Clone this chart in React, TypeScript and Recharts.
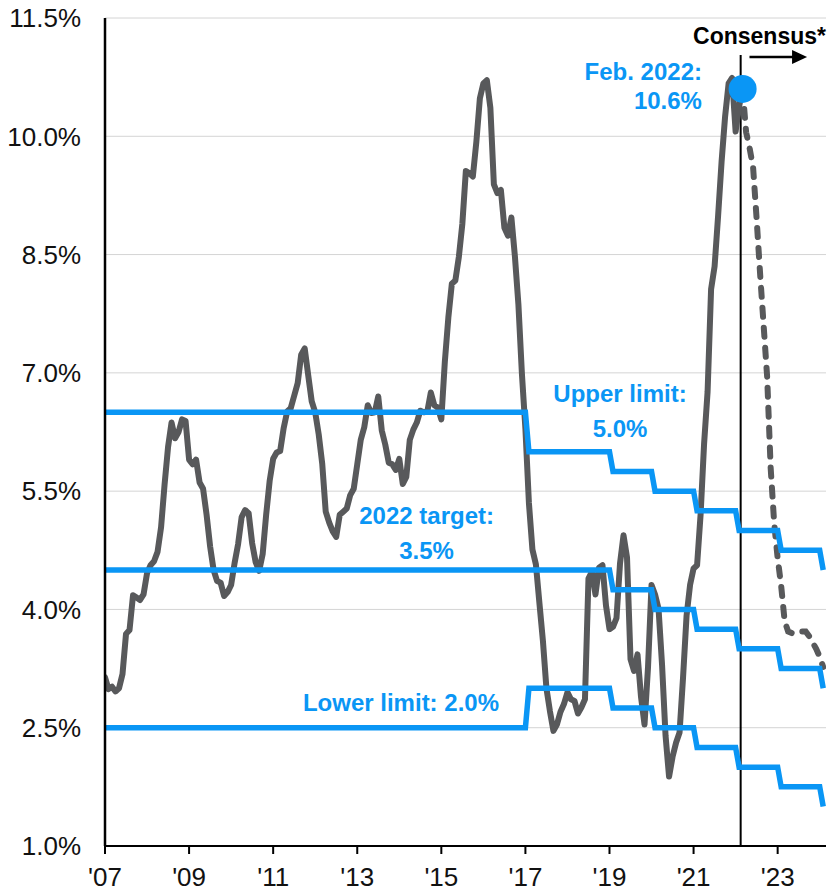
import React from 'react';
import {
  LineChart,
  Line,
  XAxis,
  YAxis,
  CartesianGrid,
  ReferenceLine,
  ReferenceDot,
} from 'recharts';

const BLUE = '#0A96F5';
const GREY = '#58595B';
const FONT = '"Liberation Sans", Arial, Helvetica, sans-serif';

// IPCA headline inflation, 12-month % change, one value per month
const ipcaDec2006 = [3.14];
const ipca2007 = [2.99, 3.02, 2.96, 3.0, 3.18, 3.69, 3.74, 4.18, 4.15, 4.12, 4.19, 4.46];
const ipca2008 = [4.56, 4.61, 4.73, 5.04, 5.58, 6.06, 6.37, 6.17, 6.25, 6.41, 6.39, 5.9];
const ipca2009 = [5.84, 5.9, 5.61, 5.53, 5.2, 4.8, 4.5, 4.36, 4.34, 4.17, 4.22, 4.31];
const ipca2010 = [4.59, 4.83, 5.17, 5.26, 5.22, 4.84, 4.6, 4.49, 4.7, 5.2, 5.63, 5.91];
const ipca2011 = [5.99, 6.01, 6.3, 6.51, 6.55, 6.71, 6.87, 7.23, 7.31, 6.97, 6.64, 6.5];
const ipca2012 = [6.22, 5.85, 5.24, 5.1, 4.99, 4.92, 5.2, 5.24, 5.28, 5.45, 5.53, 5.84];
const ipca2013 = [6.15, 6.31, 6.59, 6.49, 6.5, 6.7, 6.27, 6.09, 5.86, 5.84, 5.77, 5.91];
const ipca2014 = [5.59, 5.68, 6.15, 6.28, 6.37, 6.52, 6.5, 6.51, 6.75, 6.59, 6.56, 6.41];
const ipca2015 = [7.14, 7.7, 8.13, 8.17, 8.47, 8.89, 9.56, 9.53, 9.49, 9.93, 10.48, 10.67];
const ipca2016 = [10.71, 10.36, 9.39, 9.28, 9.32, 8.84, 8.74, 8.97, 8.48, 7.87, 6.99, 6.29];
const ipca2017 = [5.35, 4.76, 4.57, 4.08, 3.6, 3.0, 2.71, 2.46, 2.54, 2.7, 2.8, 2.95];
const ipca2018 = [2.86, 2.84, 2.68, 2.76, 2.86, 4.39, 4.48, 4.19, 4.53, 4.56, 4.05, 3.75];
const ipca2019 = [3.78, 3.89, 4.58, 4.94, 4.66, 3.37, 3.22, 3.43, 2.89, 2.54, 3.27, 4.31];
const ipca2020 = [4.19, 4.01, 3.3, 2.4, 1.88, 2.13, 2.31, 2.44, 3.14, 3.92, 4.31, 4.52];
const ipca2021 = [4.56, 5.2, 6.1, 6.76, 8.06, 8.35, 8.99, 9.68, 10.25, 10.67, 10.74, 10.06];
const ipca2022 = [10.38, 10.6];

// Latest reading highlighted on the chart (Feb. 2022)
const latestValue = 10.6;

// Consensus path, Mar 2022 through Jan 2024
const consensus = [
  10.05, 9.85, 9.6, 8.95, 8.25, 7.6, 6.95, 5.8, 5.1, 4.65,
  4.3, 3.85, 3.72, 3.7, 3.7, 3.7, 3.72, 3.72, 3.66, 3.58, 3.5, 3.4,
  3.27,
];

// Inflation-targeting regime by calendar year: center and tolerance (pp)
const targetYears = [2007, 2008, 2009, 2010, 2011, 2012, 2013, 2014, 2015, 2016, 2017, 2018, 2019, 2020, 2021, 2022, 2023, 2024];
const targetCenter = [4.5, 4.5, 4.5, 4.5, 4.5, 4.5, 4.5, 4.5, 4.5, 4.5, 4.5, 4.5, 4.25, 4.0, 3.75, 3.5, 3.25, 3.0];
const targetTolerance = [2, 2, 2, 2, 2, 2, 2, 2, 2, 2, 1.5, 1.5, 1.5, 1.5, 1.5, 1.5, 1.5, 1.5];

const yTicks = [1, 2.5, 4, 5.5, 7, 8.5, 10, 11.5];
const xTicks = [2007, 2009, 2011, 2013, 2015, 2017, 2019, 2021, 2023];

// ---- series construction (each month plotted at its month-end) ----
const ipcaYears = [
  ipca2007, ipca2008, ipca2009, ipca2010, ipca2011, ipca2012, ipca2013, ipca2014,
  ipca2015, ipca2016, ipca2017, ipca2018, ipca2019, ipca2020, ipca2021, ipca2022,
];

const ipcaSeries: { x: number; v: number }[] = [{ x: 2007, v: ipcaDec2006[0] }];
ipcaYears.forEach((vals, i) =>
  vals.forEach((v, m) => ipcaSeries.push({ x: 2007 + i + (m + 1) / 12, v }))
);

const lastPoint = ipcaSeries[ipcaSeries.length - 1];
const consensusSeries = [lastPoint].concat(
  consensus.map((v, i) => ({ x: lastPoint.x + (i + 1) / 12, v }))
);

const bandSeries: { x: number; upper: number; target: number; lower: number }[] = [];
const lastBandMonth = (targetYears[targetYears.length - 1] - 2007) * 12 + 1;
for (let k = 0; k <= lastBandMonth; k++) {
  const year = k === 0 ? 2006 : 2007 + Math.floor((k - 1) / 12);
  const idx = Math.max(0, targetYears.indexOf(year));
  const c = targetCenter[idx];
  const t = targetTolerance[idx];
  bandSeries.push({ x: 2007 + k / 12, upper: c + t, target: c, lower: c - t });
}

const consensusLineX = 2022.12;

const fmtYear = (v: number) => "'" + String(v).slice(2);
const fmtPct = (v: number) => v.toFixed(1) + '%';

// multi-line annotation drawn at a data anchor
const note =
  (lines: string[], anchor: 'start' | 'middle' | 'end', color: string, gap: number, size = 24) =>
  (props: any) => (
    <g>
      {lines.map((s, i) => (
        <text
          key={i}
          x={props.cx}
          y={props.cy + i * gap}
          textAnchor={anchor}
          fill={color}
          fontSize={size}
          fontWeight={700}
          fontFamily={FONT}
        >
          {s}
        </text>
      ))}
    </g>
  );

const arrowHead = (props: any) => (
  <polygon
    points={`${props.cx - 15},${props.cy - 7} ${props.cx},${props.cy} ${props.cx - 15},${props.cy + 7}`}
    fill="#000"
  />
);

export default function App() {
  return (
    <div style={{ position: 'absolute', left: 0, top: 0, fontFamily: FONT }}>
      <LineChart
        width={828}
        height={893}
        margin={{ top: 18, right: 2, bottom: 0, left: 0 }}
        style={{ fontFamily: FONT }}
      >
        <CartesianGrid horizontal vertical={false} stroke="#d4d4d4" strokeWidth={1} />
        <XAxis
          dataKey="x"
          type="number"
          domain={[2007, 2024.15]}
          allowDataOverflow
          ticks={xTicks}
          interval={0}
          tickFormatter={fmtYear}
          height={47}
          tickSize={8}
          tickMargin={14}
          axisLine={{ stroke: '#000', strokeWidth: 2 }}
          tickLine={{ stroke: '#000', strokeWidth: 2 }}
          tick={{ fill: '#111', fontSize: 26, fontFamily: FONT }}
        />
        <YAxis
          type="number"
          domain={[1, 11.5]}
          allowDataOverflow
          ticks={yTicks}
          interval={0}
          tickFormatter={fmtPct}
          width={105}
          tickSize={0}
          tickMargin={24}
          tickLine={false}
          axisLine={{ stroke: '#000', strokeWidth: 2.5 }}
          tick={{ fill: '#111', fontSize: 26, fontFamily: FONT }}
        />

        <ReferenceLine
          segment={[
            { x: consensusLineX, y: 1 },
            { x: consensusLineX, y: 11.03 },
          ]}
          stroke="#000"
          strokeWidth={2}
          ifOverflow="visible"
        />

        <Line
          data={ipcaSeries}
          dataKey="v"
          type="linear"
          stroke={GREY}
          strokeWidth={6}
          strokeLinejoin="round"
          strokeLinecap="round"
          dot={false}
          activeDot={false}
          isAnimationActive={false}
        />
        <Line
          data={consensusSeries}
          dataKey="v"
          type="linear"
          stroke={GREY}
          strokeWidth={6}
          strokeDasharray="9 11"
          strokeLinecap="round"
          dot={false}
          activeDot={false}
          isAnimationActive={false}
        />

        <Line data={bandSeries} dataKey="upper" type="linear" stroke={BLUE} strokeWidth={5.5} dot={false} activeDot={false} isAnimationActive={false} />
        <Line data={bandSeries} dataKey="target" type="linear" stroke={BLUE} strokeWidth={5.5} dot={false} activeDot={false} isAnimationActive={false} />
        <Line data={bandSeries} dataKey="lower" type="linear" stroke={BLUE} strokeWidth={5.5} dot={false} activeDot={false} isAnimationActive={false} />

        <ReferenceDot x={lastPoint.x} y={latestValue} r={14} fill={BLUE} stroke="none" ifOverflow="visible" />

        <ReferenceDot x={2021.2} y={10.714} shape={note(['Feb. 2022:', '10.6%'], 'end', BLUE, 29)} ifOverflow="visible" />
        <ReferenceDot x={2019.25} y={6.63} shape={note(['Upper limit:', '5.0%'], 'middle', BLUE, 35)} ifOverflow="visible" />
        <ReferenceDot x={2014.65} y={5.083} shape={note(['2022 target:', '3.5%'], 'middle', BLUE, 35)} ifOverflow="visible" />
        <ReferenceDot x={2014.04} y={2.712} shape={note(['Lower limit: 2.0%'], 'middle', BLUE, 0)} ifOverflow="visible" />

        <ReferenceDot x={2024.15} y={11.17} shape={note(['Consensus*'], 'end', '#000', 0, 23)} ifOverflow="visible" />
        <ReferenceLine
          segment={[
            { x: 2022.33, y: 11.005 },
            { x: 2023.5, y: 11.005 },
          ]}
          stroke="#000"
          strokeWidth={2.5}
          ifOverflow="visible"
        />
        <ReferenceDot x={2023.7} y={11.005} shape={arrowHead} ifOverflow="visible" />
      </LineChart>
    </div>
  );
}
